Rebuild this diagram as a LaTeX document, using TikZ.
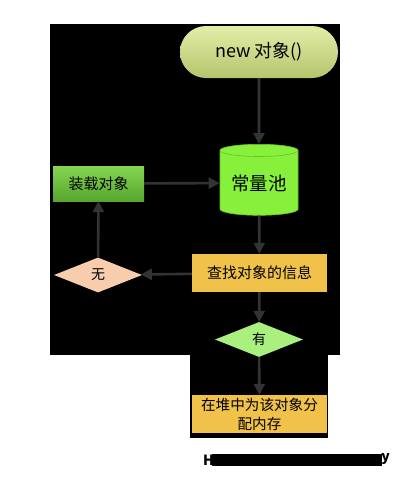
\documentclass[tikz,border=0pt]{standalone}
\usepackage{fontspec}
\setmainfont{Noto Sans CJK SC}
\usetikzlibrary{shapes.geometric,arrows.meta}
\definecolor{arrowc}{HTML}{333333}
\definecolor{pillTop}{HTML}{E3EDA8}
\definecolor{pillBot}{HTML}{B4C56C}
\definecolor{poolc}{HTML}{86F03A}
\definecolor{loadTop}{HTML}{86D652}
\definecolor{loadBot}{HTML}{57A52E}
\definecolor{findc}{HTML}{F0C24A}
\definecolor{noc}{HTML}{F8CDAE}
\definecolor{yesc}{HTML}{A9F07E}
\tikzset{
  x=1pt,y=-1pt,
  conn/.style={draw=arrowc,line width=2.6pt,-{Triangle[length=11pt,width=11pt]}},
  boxn/.style={rectangle,inner sep=0pt,text=black,align=center},
  diam/.style={diamond,inner sep=0pt,minimum width=88pt,minimum height=35pt,text=black,font=\fontsize{14}{16}\selectfont},
}
\begin{document}
\begin{tikzpicture}
\useasboundingbox (0,0) rectangle (400,485);
\fill[white] (0,0) rectangle (400,485);
% black background
\fill[black] (50,24) rectangle (340,355);
\fill[black] (190,355) rectangle (328,438);
% nodes
\node[boxn,rounded corners=26pt,top color=pillTop,bottom color=pillBot,minimum width=158pt,minimum height=52pt,font=\fontsize{18}{20}\selectfont] (new) at (259,52) {new 对象()};
\node[cylinder,shape border rotate=90,aspect=0.22,fill=poolc,draw=poolc!80!black,line width=0.6pt,minimum width=78pt,minimum height=71pt,inner sep=0pt,font=\fontsize{18.5}{20}\selectfont] (pool) at (259,183) {常量池};
\node[boxn,top color=loadTop,bottom color=loadBot,minimum width=91pt,minimum height=35pt,font=\fontsize{15}{17}\selectfont] (load) at (98.5,183.5) {装载对象};
\node[boxn,fill=findc,minimum width=135pt,minimum height=38pt,font=\fontsize{15}{17}\selectfont] (find) at (259.5,273) {查找对象的信息};
\node[diam,fill=noc] (no) at (98,275) {无};
\node[diam,fill=yesc] (yes) at (259,339.5) {有};
\node[boxn,fill=findc,minimum width=135pt,minimum height=38pt,font=\fontsize{14.6}{19}\selectfont] (alloc) at (259.5,414) {在堆中为该对象分\\配内存};
% connectors
\draw[conn] (new) -- (pool);
\draw[conn] (load) -- (pool);
\draw[conn] (pool) -- (find);
\draw[conn] (find) -- (no);
\draw[conn] (no) -- (load);
\draw[conn] (find) -- (yes);
\draw[conn] (yes) -- (alloc);
% watermark
\fill[black] (212,454) rectangle (382,466);
\node[inner sep=0pt,font=\bfseries\fontsize{14}{14}\selectfont,anchor=west] (wmh) at (203,460) {H};
\node[inner sep=0pt,font=\bfseries\fontsize{14}{14}\selectfont,anchor=east] (wmy) at (390,459) {y};
\end{tikzpicture}
\end{document}
